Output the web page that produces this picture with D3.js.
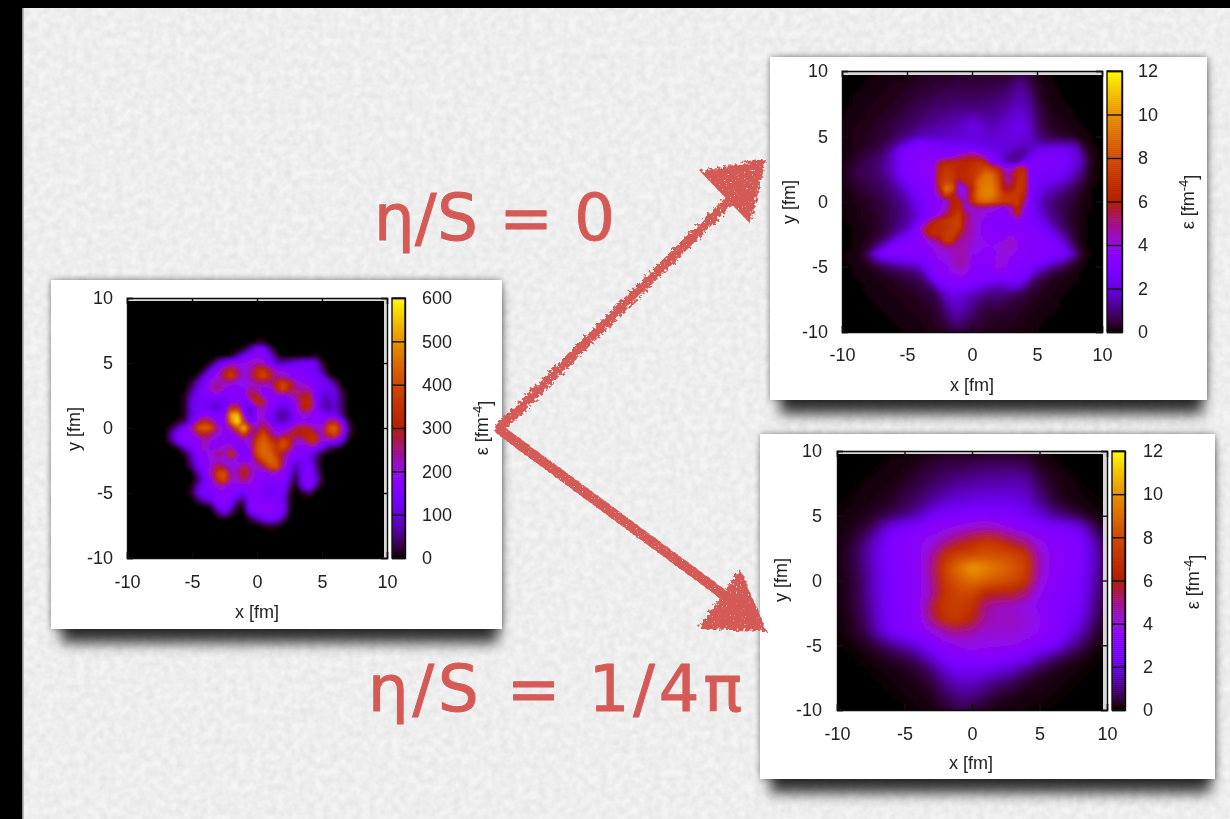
<!DOCTYPE html>
<html><head><meta charset="utf-8">
<script src="https://cdn.jsdelivr.net/npm/d3@7"></script>
<style>html,body{margin:0;padding:0;background:#000;overflow:hidden}svg{display:block}
text{font-family:"Liberation Sans",Arial,sans-serif;fill:#222}</style></head><body>
<svg id="c" width="1230" height="819" xmlns="http://www.w3.org/2000/svg"></svg>
<script>
// Initial state, every 0.5 fm: [y, first x, values...]
const initialRows=[
[6.5,0,20,20],
[6,-1,20,90,170,170,60],
[5.5,-2,10,70,140,170,180,170,120,30,0,0,0,0,0,15],
[5,-3.5,15,90,150,190,180,190,210,230,210,150,80,70,90,110,130,140,120,20],
[4.5,-4,20,110,170,260,330,250,190,230,320,350,270,190,180,170,160,150,140,130,50],
[4,-4.5,20,110,170,210,320,390,280,190,250,350,410,330,230,210,190,170,160,150,140,110,15],
[3.5,-5,20,90,150,210,240,220,220,190,180,210,240,250,240,320,390,310,220,190,170,150,130,120,40],
[3,-5,50,120,160,220,260,190,170,170,180,250,210,170,170,320,410,310,250,230,230,150,120,120,100,15],
[2.5,-5.5,10,90,130,150,170,180,150,150,170,170,280,310,190,170,170,180,200,250,300,300,170,100,100,110,30],
[2,-5.5,15,110,130,130,120,110,130,170,180,140,190,340,290,170,160,140,150,200,310,340,190,80,70,100,40],
[1.5,-5.5,15,110,130,130,100,90,130,340,340,150,80,190,230,160,110,90,120,190,300,310,180,90,70,100,40],
[1,-5.5,15,110,140,170,170,150,150,520,560,200,90,190,200,140,80,60,90,170,190,190,170,150,130,130,50],
[0.5,-6,15,40,130,270,340,270,170,170,470,600,350,130,200,240,160,100,80,110,170,180,170,170,170,270,300,170,15],
[0,-6.5,30,90,150,250,420,450,410,240,170,250,420,560,330,220,310,240,170,170,200,280,310,290,210,210,420,460,280,50],
[-0.5,-6.5,80,160,170,190,260,310,240,200,180,170,230,380,220,310,410,280,200,240,280,290,310,340,320,210,340,390,210,30],
[-1,-6.5,60,150,170,170,170,230,190,170,170,170,170,190,210,390,440,380,310,410,340,210,210,340,340,190,190,170,110],
[-1.5,-6,20,90,150,170,230,170,190,210,230,140,150,210,410,450,420,350,410,310,170,170,170,170,110,40,20],
[-2,-5.5,20,90,160,180,220,260,230,360,230,150,180,400,450,440,360,270,190,170,170,120,70,10],
[-2.5,-5,70,150,170,190,210,180,220,180,170,180,290,400,450,420,250,170,110,130,130,50],
[-3,-5,40,130,160,220,300,270,190,210,300,220,210,250,390,420,230,140,70,120,160,60],
[-3.5,-4.5,70,150,230,390,420,230,230,320,240,170,180,190,190,170,120,40,130,170,90],
[-4,-4.5,40,130,190,350,400,220,210,280,210,170,170,170,170,160,90,10,130,170,110,10],
[-4.5,-5,10,90,150,170,210,200,170,170,170,170,170,150,130,150,150,50,0,100,170,50],
[-5,-5,20,110,150,150,170,170,170,150,120,170,170,130,120,150,140,15,0,10,30],
[-5.5,-4.5,40,100,120,170,170,150,70,50,170,170,150,150,150,130,10],
[-6,-3.5,20,140,170,110,10,20,170,170,170,170,170,140,10],
[-6.5,-3,50,110,40,0,0,120,160,170,170,170,130],
[-7,-0.5,20,60,120,140,120,50],
[-7.5,0.5,5,15,10]];
// Ideal flow, every 0.5 fm, in units of 0.1 fm^-4: rows y = 10 .. -10, columns x = -10 .. 10
const idealFlowTenths=[
[0,0,0,0,0,0,1,1,1,1, 1,1,2,2,2,2,2,2,3,3, 3,3,3,3,3,3,3,4,4,3, 2,1,1,0,0,0,0,0,0,0,0],
[0,0,0,0,0,1,1,1,1,1, 2,2,3,3,3,3,3,3,4,4, 4,4,4,4,4,4,5,7,7,5, 2,1,1,0,0,0,0,0,0,0,0],
[0,0,0,0,1,1,1,1,2,2, 2,3,3,3,4,4,4,5,5,5, 5,5,5,5,6,6,8,11,10,6, 3,1,1,0,0,0,0,0,0,0,0],
[0,0,0,1,1,1,1,2,2,2, 3,3,4,4,5,5,6,6,6,6, 6,6,6,7,7,8,10,13,12,8, 4,2,1,1,0,0,0,0,0,0,0],
[0,0,1,1,1,1,2,2,2,3, 3,4,5,5,6,7,7,7,7,7, 7,7,8,8,9,10,12,14,14,10, 5,2,1,1,0,0,0,0,0,0,0],
[0,0,1,1,1,2,2,2,3,3, 4,5,6,6,7,8,8,9,9,9, 9,9,9,10,11,12,14,16,15,11, 6,3,2,1,1,0,0,0,0,0,0],
[0,1,1,1,2,2,2,3,3,4, 5,6,7,8,9,9,10,11,11,11, 11,11,11,11,12,14,16,18,17,13, 7,4,2,1,1,1,0,0,0,0,0],
[0,1,1,1,2,2,3,3,4,5, 6,7,8,9,10,11,12,13,13,14, 16,15,13,13,14,16,18,20,19,15, 8,5,3,2,1,1,0,0,0,0,0],
[1,1,1,2,2,3,3,4,5,6, 7,8,10,11,12,13,14,15,16,18, 20,19,16,15,16,18,20,22,21,16, 9,5,3,2,2,1,1,0,0,0,0],
[1,1,2,2,2,3,4,4,6,7, 8,10,12,13,14,15,16,17,18,19, 21,21,18,17,18,19,21,23,21,17, 10,6,4,3,2,2,1,1,0,0,0],
[1,1,2,2,3,3,4,5,7,9, 11,13,16,17,17,17,18,18,19,20, 21,20,19,19,19,20,21,21,20,17, 12,8,6,5,4,3,2,1,1,0,0],
[1,1,2,2,3,4,5,7,10,14, 19,25,29,28,26,25,24,24,24,23, 23,22,21,20,20,20,20,19,18,17, 15,13,12,12,12,13,10,3,1,0,0],
[1,1,2,3,4,5,7,10,16,24, 28,30,31,31,30,29,28,28,28,27, 27,26,25,23,22,20,18,15,14,17, 21,24,25,25,24,22,19,8,2,1,0],
[1,2,3,4,5,7,9,13,20,27, 30,32,33,33,33,33,32,36,44,52, 54,50,38,28,23,17,13,12,14,22, 27,29,29,28,27,25,21,12,3,1,0],
[1,2,4,6,7,8,10,14,19,26, 31,33,34,34,35,54,64,65,64,64, 67,70,66,35,27,19,14,14,26,28, 29,30,29,28,27,25,20,14,4,1,0],
[2,3,5,6,7,8,11,14,19,27, 31,32,33,34,35,66,71,70,64,66, 70,74,82,78,68,44,40,66,66,30, 29,28,28,27,26,23,18,11,3,1,0],
[2,3,5,6,7,8,10,13,18,25, 30,31,33,34,35,68,74,72,66,68, 70,80,92,92,78,50,48,68,70,30, 28,27,27,26,24,20,14,8,2,1,0],
[2,3,4,5,6,7,8,11,15,21, 26,29,31,33,35,70,78,76,44,66, 68,90,94,94,82,54,50,70,70,30, 26,24,23,21,18,14,9,5,2,1,0],
[1,2,3,4,5,6,7,9,12,16, 22,27,30,33,35,62,96,86,36,40, 64,90,96,96,84,56,60,72,70,30, 25,21,18,15,12,9,6,3,1,0,0],
[1,1,2,3,4,5,6,8,10,13, 18,24,28,32,34,50,76,64,42,40, 70,92,96,96,86,72,72,72,64,29, 23,18,14,11,8,6,4,2,1,0,0],
[1,1,2,2,3,4,5,7,9,11, 15,21,26,31,33,35,40,60,64,42, 68,86,90,88,80,74,74,74,54,28, 20,14,11,9,7,5,3,2,1,0,0],
[0,1,1,2,3,4,5,6,8,10, 13,18,25,31,33,36,44,60,68,44, 42,44,44,40,38,36,44,68,42,28, 22,16,11,8,6,4,3,1,1,0,0],
[0,1,1,2,2,3,5,6,8,10, 13,17,24,30,34,40,54,66,74,54, 44,42,38,36,34,34,38,64,34,29, 24,18,12,9,6,4,2,1,0,0,0],
[0,1,1,2,2,3,4,6,8,11, 14,19,28,38,58,68,72,76,76,54, 44,40,35,33,32,32,33,36,32,30, 27,22,15,10,7,4,2,1,0,0,0],
[0,0,1,1,2,3,4,6,9,12, 16,24,40,60,66,68,70,74,76,50, 46,38,34,33,32,32,32,33,32,31, 29,26,20,14,9,5,3,1,0,0,0],
[0,0,1,1,2,3,5,8,12,18, 24,29,32,58,66,68,74,74,62,48, 44,38,35,34,33,34,36,34,33,32, 31,29,26,20,13,7,3,1,0,0,0],
[0,0,1,1,3,5,8,14,22,28, 30,31,33,38,46,54,76,70,48,46, 42,38,36,35,36,38,44,38,34,33, 32,31,30,26,19,10,4,1,0,0,0],
[0,0,1,2,4,9,17,26,30,31, 32,32,33,34,38,42,46,46,46,46, 40,37,36,36,38,42,42,38,34,33, 32,31,31,29,25,16,6,2,0,0,0],
[0,1,1,3,8,20,28,31,32,32, 32,32,32,33,36,40,40,44,46,46, 38,36,35,35,38,42,38,35,34,33, 32,31,31,30,28,22,12,3,1,0,0],
[0,1,1,2,5,11,16,19,22,24, 24,25,27,30,34,37,38,42,46,46, 36,34,33,34,40,40,35,33,32,32, 31,29,26,22,17,11,5,2,0,0,0],
[0,0,1,1,2,4,6,8,10,12, 14,16,19,28,32,34,36,40,46,42, 36,33,32,33,42,38,33,31,30,28, 24,19,14,10,7,4,2,1,0,0,0],
[0,0,1,1,1,2,3,4,5,6, 7,8,11,20,30,33,35,37,40,38, 34,32,31,31,33,32,31,30,28,24, 15,9,6,4,3,2,1,0,0,0,0],
[0,0,0,1,1,1,2,2,3,4, 5,6,8,12,24,30,33,34,35,34, 33,31,30,28,26,28,30,28,24,12, 7,5,3,2,2,1,1,0,0,0,0],
[0,0,0,0,1,1,1,2,2,3, 3,4,5,7,12,22,28,30,30,29, 28,24,20,18,16,18,20,20,14,7, 5,3,2,2,1,1,0,0,0,0,0],
[0,0,0,0,1,1,1,1,2,2, 2,3,4,5,6,12,20,23,22,20, 18,16,13,11,11,11,10,8,6,4, 3,2,2,1,1,0,0,0,0,0,0],
[0,0,0,0,0,1,1,1,1,2, 2,2,3,4,5,8,15,19,19,17, 14,11,9,8,8,7,6,5,4,3, 2,2,1,1,0,0,0,0,0,0,0],
[0,0,0,0,0,0,1,1,1,1, 2,2,2,3,4,6,12,16,17,15, 12,8,6,6,6,5,4,4,3,2, 2,1,1,1,0,0,0,0,0,0,0],
[0,0,0,0,0,0,0,1,1,1, 1,2,2,2,3,5,9,13,15,12, 9,6,5,4,4,4,3,3,2,2, 1,1,1,0,0,0,0,0,0,0,0],
[0,0,0,0,0,0,0,0,1,1, 1,1,2,2,3,4,7,11,12,9, 7,5,4,3,3,3,3,2,2,1, 1,1,0,0,0,0,0,0,0,0,0],
[0,0,0,0,0,0,0,0,0,1, 1,1,1,2,2,3,5,7,8,6, 5,4,3,3,2,2,2,2,1,1, 1,0,0,0,0,0,0,0,0,0,0],
[0,0,0,0,0,0,0,0,0,0, 1,1,1,1,2,2,3,4,5,4, 3,3,2,2,2,2,1,1,1,1, 0,0,0,0,0,0,0,0,0,0,0]];
// Viscous flow, every 1 fm: rows y = 10 .. -10, columns x = -10 .. 10
const viscousFlow=[
[0,0,0,0,0,0,.1,.1,.2,.2,.2,.2,.2,.2,.2,.1,0,0,0,0,0],
[0,0,0,0,.1,.1,.2,.4,.5,.5,.6,.7,.7,.7,.6,.2,.1,0,0,0,0],
[0,0,0,.1,.1,.2,.4,.6,.8,1,1.1,1.2,1.2,1.3,1.2,.5,.2,.1,0,0,0],
[0,0,.1,.1,.2,.4,.6,.9,1.2,1.5,1.6,1.7,1.7,1.8,1.6,.8,.3,.1,.05,0,0],
[0,.05,.1,.2,.3,.6,.9,1.4,1.9,2.1,2.3,2.3,2.3,2.3,2,1.2,.5,.2,.1,.05,0],
[.05,.1,.2,.4,.7,1,1.6,2.6,3,3.1,3.2,3.2,3.1,3,2.7,2,1.3,.8,.4,.1,.05],
[.05,.2,.4,1.2,2.5,3,3.2,3.4,3.7,4,4.3,4.6,4.3,3.8,3.4,3.2,3.1,2.9,2.4,.8,.1],
[.1,.3,.9,2,3,3.3,3.5,4,4.8,5.8,6.6,7.4,6.9,5.8,5,3.8,3.4,3.2,3,1.6,.2],
[.1,.4,1.1,2.2,3,3.3,3.5,4.6,7,7.7,7.8,8.2,8.1,7.9,7.2,4.3,3.5,3.3,3.1,1.9,.3],
[.1,.4,1,2.1,2.9,3.2,3.5,5,7.8,9.2,10.4,9.8,9.2,8.6,7.6,4.4,3.5,3.2,3,1.8,.3],
[.1,.3,.9,2,2.9,3.2,3.5,4.8,7.4,8.6,9.2,8.8,8.4,8,7.2,4.1,3.4,3.2,2.9,1.6,.2],
[.1,.3,.9,2,2.9,3.2,3.5,4.6,7.2,7.8,7.7,6.4,6.2,6.1,5.2,3.7,3.3,3.1,2.8,1.4,.2],
[.1,.3,.8,1.9,2.9,3.2,3.5,5.7,7.4,7.5,7,4.9,4.3,4.2,3.9,3.5,3.2,3,2.6,1.2,.2],
[.05,.2,.7,1.8,2.9,3.2,3.5,5.2,7.1,7.3,6.4,4.7,4.4,4.4,4.1,3.7,3.2,3,2.3,.9,.1],
[.05,.2,.5,1.5,2.7,3.1,3.4,3.7,4.5,4.9,4.6,4.2,4.2,4.2,3.9,3.6,3.2,2.8,1.6,.5,.1],
[0,.05,.2,.5,1,1.5,2.2,3.1,3.5,3.8,3.9,3.8,3.8,3.7,3.5,3.2,2.8,1.6,.8,.2,.05],
[0,0,.05,.2,.3,.5,.9,1.8,3,3.2,3.3,3.2,3.1,2.9,2.4,1.5,.8,.4,.2,.05,0],
[0,0,0,.05,.1,.2,.4,.8,1.8,2.4,2.4,2.2,1.9,1.5,.8,.4,.2,.1,.05,0,0],
[0,0,0,0,.05,.1,.2,.4,1.1,1.6,1.6,1.2,.8,.6,.3,.2,.1,.05,0,0,0],
[0,0,0,0,0,.05,.1,.2,.6,1,1,.6,.3,.2,.1,.1,.05,0,0,0,0],
[0,0,0,0,0,0,.05,.1,.3,.5,.4,.2,.1,.1,.05,0,0,0,0,0,0]];
const axisTicks=[-10,-5,0,5,10];
const barTicksInitial=[0,100,200,300,400,500,600];
const barTicksFinal=[0,2,4,6,8,10,12];
const caption0="η/S = 0", caption1="η/S = 1/4π";

const initial=d3.range(41).map(()=>d3.range(41).map(()=>0));
initialRows.forEach(([yv,x0,...vals])=>vals.forEach((v,i)=>{initial[Math.round((10-yv)*2)][Math.round((x0+10)*2)+i]=v;}));
const idealFlow=idealFlowTenths.map(r=>r.map(v=>v/10));

const svg=d3.select("#c");
const defs=svg.append("defs");
defs.html(`
<filter id="paper" x="0" y="0" width="100%" height="100%" color-interpolation-filters="sRGB"><feTurbulence type="fractalNoise" baseFrequency="0.13" numOctaves="2" seed="4"/>
<feColorMatrix values="0 0 0 0 .5 0 0 0 0 .5 0 0 0 0 .5 .2 0 0 0 -.05"/></filter>
<filter id="shadow" x="-15%" y="-15%" width="130%" height="130%"><feGaussianBlur stdDeviation="7"/></filter>
<filter id="halo" x="-10%" y="-10%" width="120%" height="120%"><feGaussianBlur stdDeviation="3"/></filter>
<filter id="soft" x="-2%" y="-2%" width="104%" height="104%"><feGaussianBlur stdDeviation="0.5"/></filter>
<filter id="blurA" x="0" y="0" width="100%" height="100%"><feGaussianBlur stdDeviation="1.5"/></filter>
<filter id="blurB" x="0" y="0" width="100%" height="100%"><feGaussianBlur stdDeviation="1.2"/></filter>
<filter id="blurC" x="0" y="0" width="100%" height="100%"><feGaussianBlur stdDeviation="3.6"/></filter>
<filter id="chalk" x="-5%" y="-5%" width="110%" height="110%"><feTurbulence type="fractalNoise" baseFrequency="0.3" numOctaves="2" seed="7" result="n"/>
<feDisplacementMap in="SourceGraphic" in2="n" scale="7" result="d"/>
<feTurbulence type="fractalNoise" baseFrequency="0.5" numOctaves="1" seed="11"/>
<feColorMatrix values="0 0 0 0 0 0 0 0 0 0 0 0 0 0 0 0 9 0 0 -6.2" result="h"/>
<feComposite in="d" in2="h" operator="out"/></filter>`);

// page
svg.append("rect").attr("width",1230).attr("height",819).attr("fill","#000");
svg.append("rect").attr("x",22).attr("y",8).attr("width",1208).attr("height",811).attr("fill","#f4f4f4");
svg.append("rect").attr("x",22).attr("y",8).attr("width",1208).attr("height",811).attr("filter","url(#paper)");
svg.append("rect").attr("x",22).attr("y",8).attr("width",1.5).attr("height",811).attr("fill","#8a8a8a");

const palette=t=>{const r=Math.sqrt(t),g=t*t*t,b=Math.max(0,Math.sin(2*Math.PI*t));return d3.rgb(255*r,255*g,255*b).formatRgb();};

function panel(o){
  const n=o.grid.length, w=o.box[2]-o.box[0], h=o.box[3]-o.box[1];
  svg.append("rect").attr("x",o.box[0]).attr("y",o.box[1]).attr("width",w).attr("height",h).attr("fill","#000").attr("opacity",.4).attr("filter","url(#halo)");
  svg.append("rect").attr("x",o.box[0]+10).attr("y",o.box[1]+8).attr("width",w-14).attr("height",h+6).attr("fill","#000").attr("opacity",.8).attr("filter","url(#shadow)");
  svg.append("rect").attr("x",o.box[0]).attr("y",o.box[1]).attr("width",w).attr("height",h).attr("fill","#fff");
  const g=svg.append("g").attr("filter","url(#soft)");
  const x=d3.scaleLinear().domain([-10,10]).range([o.px[0],o.px[1]]);
  const y=d3.scaleLinear().domain([-10,10]).range([o.py[1],o.py[0]]);
  g.append("rect").attr("x",o.px[0]).attr("y",o.py[0]).attr("width",o.px[1]-o.px[0]).attr("height",o.py[1]-o.py[0]).attr("fill","#d8d8d8");
  const clipId="clip"+o.id;
  defs.append("clipPath").attr("id",clipId).append("rect").attr("x",o.img[0]).attr("y",o.img[1]).attr("width",o.img[2]-o.img[0]).attr("height",o.img[3]-o.img[1]);
  const im=g.append("g").attr("clip-path",`url(#${clipId})`);
  const color=d3.scaleSequential(palette).domain([0,o.max]);
  const thr=d3.range(1,170).map(i=>o.max*(i/170)*(i/170));
  const cs=d3.contours().size([n,n]).thresholds(thr)(o.grid.flat());
  const step=20/(n-1);
  const path=d3.geoPath(d3.geoTransform({point(px,py){this.stream.point(x(-10+(px-.5)*step),y(10-(py-.5)*step));}}));
  const hg=im.append("g").attr("filter",`url(#${o.blur})`);
  hg.append("rect").attr("x",o.px[0]-30).attr("y",o.py[0]-30).attr("width",o.px[1]-o.px[0]+60).attr("height",o.py[1]-o.py[0]+60).attr("fill","#000");
  hg.selectAll("path").data(cs).join("path").attr("d",path).attr("fill",d=>color(d.value));

  const by=d3.scaleLinear().domain([0,o.max]).range([o.py[1],o.py[0]]);
  const steps=d3.range(0,o.max,o.max/130);
  g.append("g").selectAll("rect").data(steps).join("rect")
    .attr("x",o.bar[0]).attr("width",o.bar[1]-o.bar[0])
    .attr("y",d=>by(d+o.max/130)).attr("height",d=>by(d)-by(d+o.max/130)+.5).attr("fill",d=>color(d));

  const fs=18;
  const fmt=d=>String(d);
  const sty=a=>{a.selectAll("text").attr("font-size",fs).attr("fill","#222").attr("font-family",'"Liberation Sans",Arial,sans-serif');
    a.selectAll("line,path").attr("stroke","#111").attr("stroke-width",1.4);};
  g.append("g").attr("transform",`translate(0,${o.py[1]})`).call(d3.axisBottom(x).tickValues(axisTicks).tickFormat(fmt).tickSize(-6).tickPadding(o.xpad)).call(sty);
  g.append("g").attr("transform",`translate(${o.px[0]},0)`).call(d3.axisLeft(y).tickValues(axisTicks).tickFormat(fmt).tickSize(-6).tickPadding(o.ypad)).call(sty);
  g.append("g").attr("transform",`translate(0,${o.py[0]})`).call(d3.axisTop(x).tickValues(axisTicks).tickFormat("").tickSize(-6)).call(sty);
  g.append("g").attr("transform",`translate(${o.px[1]},0)`).call(d3.axisRight(y).tickValues(axisTicks).tickFormat("").tickSize(-6)).call(sty);
  g.append("g").attr("transform",`translate(${o.bar[1]},0)`).call(d3.axisRight(by).tickValues(o.barTicks).tickFormat(fmt).tickSize(-(o.bar[1]-o.bar[0])).tickPadding(o.barpad)).call(sty);
  g.append("rect").attr("x",o.bar[0]).attr("y",o.py[0]).attr("width",o.bar[1]-o.bar[0]).attr("height",o.py[1]-o.py[0]).attr("fill","none").attr("stroke","#111").attr("stroke-width",1.4);

  const t=(s,px,py,rot)=>g.append("text").attr("text-anchor","middle").attr("font-size",fs).attr("transform",`translate(${px},${py})${rot?" rotate(-90)":""}`).attr("dy",".35em").text(s);
  t("x [fm]",o.xl[0],o.xl[1],false);
  t("y [fm]",o.yl[0],o.yl[1],true);
  const e=t("",o.el[0],o.el[1],true);
  e.append("tspan").text("ε [fm");
  e.append("tspan").attr("dy","-.45em").attr("font-size",13).text("-4");
  e.append("tspan").attr("dy",".45em").text("]");
}
panel({id:"a",grid:initial,max:600,barTicks:barTicksInitial,blur:"blurA",box:[51,280,502,629],px:[127,387],py:[298,558],img:[127,301,384,558],bar:[392,405],xpad:17,ypad:14,barpad:17,xl:[257,612],yl:[74,429],el:[482,428]});
panel({id:"b",grid:idealFlow,max:12,barTicks:barTicksFinal,blur:"blurB",box:[770,57,1207,400],px:[842,1102],py:[71,332],img:[842,75,1102,332],bar:[1107,1122],xpad:16,ypad:14,barpad:16,xl:[972,385],yl:[789,202],el:[1188,202]});
panel({id:"c",grid:viscousFlow,max:12,barTicks:barTicksFinal,blur:"blurC",box:[760,434,1215,779],px:[837,1107],py:[451,710],img:[837,454,1103,710],bar:[1112,1125],xpad:17,ypad:15,barpad:18,xl:[971,763],yl:[781,580],el:[1193,582]});

const red="#d55a56";
const arrows=[
 {shaft:[[500,428],[738,192]],head:[[702,172],[765,160],[750,222]]},
 {shaft:[[500,430],[728,598]],head:[[740,571],[765,630],[700,628]]}];
const ag=svg.append("g").attr("filter","url(#chalk)");
arrows.forEach(a=>{
  ag.append("path").attr("d",d3.line()(a.shaft)).attr("stroke",red).attr("stroke-width",10).attr("stroke-linecap","round").attr("fill","none");
  ag.append("path").attr("d",d3.line()(a.head)+"Z").attr("fill",red).attr("stroke",red).attr("stroke-width",2);
});
const cap=(s,px,py,len)=>svg.append("text").attr("x",px).attr("y",py).attr("textLength",len).attr("lengthAdjust","spacing")
  .style("font-family",'"DejaVu Sans"').style("font-size","64px").style("fill",red).style("stroke",red).style("stroke-width","1px").style("stroke-linejoin","round").text(s);
cap(caption0,374,240,241);
cap(caption1,368,711,374);
</script></body></html>
